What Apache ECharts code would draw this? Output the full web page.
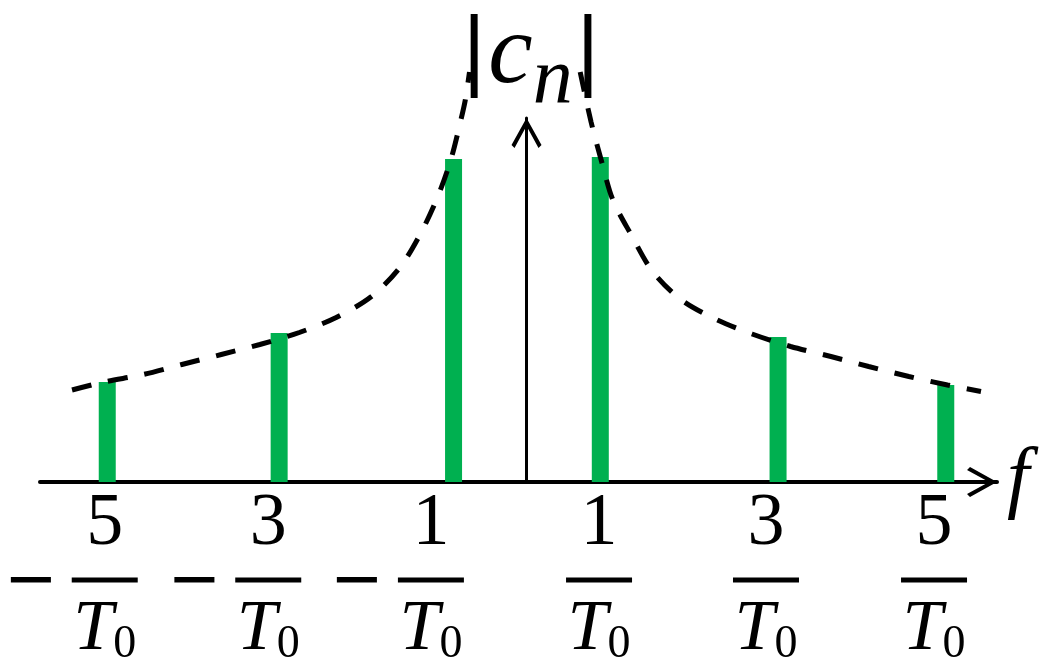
<!DOCTYPE html>
<html>
<head>
<meta charset="utf-8">
<title>Line spectrum |c_n|</title>
<script src="https://cdn.jsdelivr.net/npm/echarts@6/dist/echarts.min.js"></script>
<style>
  html, body { margin: 0; padding: 0; background: #ffffff; }
  #chart { width: 1045px; height: 662px; }
</style>
</head>
<body>
<div id="chart"></div>
<script>
// Harmonic frequencies (in units of 1/T0) and the magnitude of each line
const harmonicF = [-5, -2.95, -0.87, 0.88, 3, 5];
const cnMagnitude = [1.00, 1.49, 3.23, 3.25, 1.45, 0.97];

// Tick label positions along f (centre of each fraction) and their contents
const tickF = [-5.03, -3.08, -1.14, 0.865, 2.856, 4.86];
const tickNumerator = ['5', '3', '1', '1', '3', '5'];
const tickNegative = [true, true, true, false, false, false];

// Dashed envelope, negative and positive frequency sides: [f, |c|]
const envelopeNeg = [
  [-5.42, 0.92], [-5.04, 1.00], [-4.57, 1.075], [-4.11, 1.175], [-3.64, 1.275],
  [-3.18, 1.375], [-2.71, 1.495], [-2.27, 1.645], [-1.85, 1.855], [-1.51, 2.145],
  [-1.26, 2.49], [-1.06, 2.85], [-0.90, 3.23], [-0.78, 3.63], [-0.73, 3.82], [-0.68, 4.10]
];
const envelopePos = [
  [0.64, 4.10], [0.77, 3.60], [0.894, 3.21], [1.03, 2.82], [1.25, 2.47],
  [1.50, 2.11], [1.84, 1.825], [2.25, 1.63], [2.69, 1.48], [3.15, 1.355],
  [3.63, 1.255], [4.08, 1.155], [4.56, 1.055], [5.02, 0.97], [5.42, 0.905]
];

const barData = harmonicF.map((f, i) => [f, cnMagnitude[i]]);

// Axis geometry
const F_MIN = -5.802, F_MAX = 5.611;
const GRID_LEFT = 40, GRID_RIGHT = 48;
const PX_PER_F = (1045 - GRID_LEFT - GRID_RIGHT) / (F_MAX - F_MIN);

// Label pieces: fraction bar, minus sign box and the gap between them (px)
const FRAC_W = 66, MINUS_W = 44, MINUS_GAP = 19;
const LEAD_W = MINUS_W + MINUS_GAP;
// A negative label is one rich block "− ▬"; its anchor sits at the block centre,
// half the lead width to the left of the fraction itself.
const labelAnchor = tickF.map((f, i) => tickNegative[i] ? f - (LEAD_W / 2) / PX_PER_F : f);

// Open chevron used as the arrow head on both axes (points "up" in its own frame)
const chevron = 'path://M15,0 L30,27 L27,30 L15,8 L3,30 L0,27 Z';

const serif = 'Liberation Serif';

function labelIndex(v) {
  let best = 0;
  for (let i = 1; i < labelAnchor.length; i++) {
    if (Math.abs(labelAnchor[i] - v) < Math.abs(labelAnchor[best] - v)) best = i;
  }
  return best;
}

const chart = echarts.init(document.getElementById('chart'), null, { renderer: 'canvas' });

chart.setOption({
  animation: false,
  backgroundColor: '#ffffff',
  grid: { left: GRID_LEFT, right: GRID_RIGHT, top: 118, bottom: 180, containLabel: false, outerBoundsMode: 'none' },
  xAxis: {
    type: 'value',
    min: F_MIN,
    max: F_MAX,
    name: 'f',
    nameLocation: 'end',
    nameGap: 10,
    nameTextStyle: { fontFamily: serif, fontStyle: 'italic', fontSize: 80, color: '#000' },
    axisLine: {
      show: true,
      onZero: false,
      lineStyle: { color: '#000', width: 4 },
      symbol: ['none', chevron],
      symbolSize: [30, 30],
      symbolOffset: [0, -15]
    },
    axisTick: { show: false },
    splitLine: { show: false },
    axisLabel: {
      show: true,
      customValues: labelAnchor,
      hideOverlap: false,
      margin: 8,
      color: '#000',
      formatter: function (v) {
        const i = labelIndex(v);
        if (tickNegative[i]) {
          return '{lead|}{num|' + tickNumerator[i] + '}\n' +
                 '{minus|\u2212}{gap|}{bar|}\n' +
                 '{lead|}{den|T}{sub|0}';
        }
        return '{num|' + tickNumerator[i] + '}\n{bar|}\n{den|T}{sub|0}';
      },
      rich: {
        num: { fontFamily: serif, fontSize: 74, lineHeight: 70, color: '#000' },
        lead: { width: LEAD_W, height: 5 },
        bar: { width: FRAC_W, height: 5, lineHeight: 40, backgroundColor: '#000' },
        minus: { fontFamily: 'DejaVu Sans', fontSize: 64, width: MINUS_W, lineHeight: 40, padding: [7, 0, 0, 0], color: '#000' },
        gap: { width: MINUS_GAP, height: 5, lineHeight: 40 },
        den: { fontFamily: serif, fontStyle: 'italic', fontSize: 72, lineHeight: 60, color: '#000' },
        sub: { fontFamily: serif, fontSize: 46, lineHeight: 60, padding: [30, 0, 0, 0], color: '#000' }
      }
    }
  },
  yAxis: {
    type: 'value',
    min: 0,
    max: 3.64,
    name: '{b||}{c|c}{n|n}{b||}',
    nameLocation: 'end',
    nameGap: 14,
    nameTextStyle: {
      color: '#000',
      padding: [0, 0, 0, 9],
      rich: {
        b: { fontFamily: 'DejaVu Sans', fontSize: 84, lineHeight: 96, color: '#000' },
        c: { fontFamily: serif, fontStyle: 'italic', fontSize: 100, lineHeight: 96, color: '#000' },
        n: { fontFamily: serif, fontStyle: 'italic', fontSize: 80, lineHeight: 96, padding: [50, 1, 0, 0], color: '#000' }
      }
    },
    axisLine: {
      show: true,
      onZero: true,
      lineStyle: { color: '#000', width: 3 },
      symbol: ['none', chevron],
      symbolSize: [30, 30],
      symbolOffset: [0, -15]
    },
    axisTick: { show: false },
    axisLabel: { show: false },
    splitLine: { show: false }
  },
  series: [
    {
      name: '|c_n|',
      type: 'bar',
      data: barData,
      barWidth: 17,
      itemStyle: { color: '#00B050' },
      silent: true
    },
    {
      name: 'envelope f<0',
      type: 'line',
      data: envelopeNeg,
      smooth: 0.3,
      symbol: 'none',
      clip: false,
      lineStyle: { color: '#000', width: 5, type: [20, 17], cap: 'butt' },
      silent: true
    },
    {
      name: 'envelope f>0',
      type: 'line',
      data: envelopePos,
      smooth: 0.3,
      symbol: 'none',
      clip: false,
      lineStyle: { color: '#000', width: 5, type: [20, 17], cap: 'butt' },
      silent: true
    }
  ]
});
</script>
</body>
</html>
